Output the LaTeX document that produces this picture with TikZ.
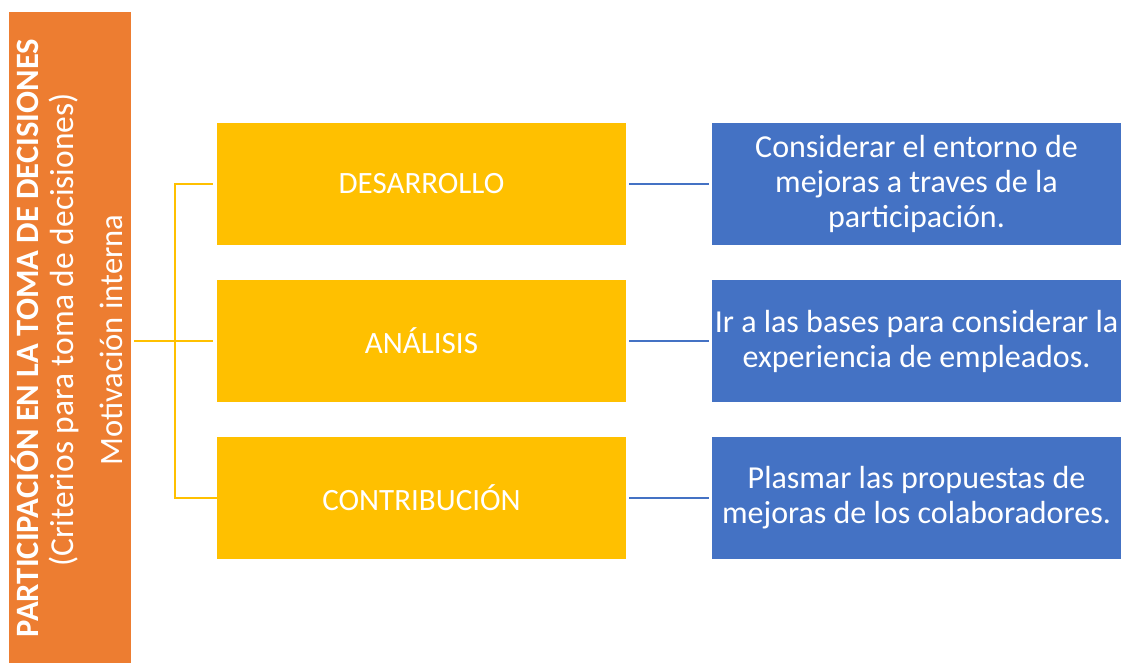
\documentclass[tikz,border=0pt]{standalone}
\usepackage{fontspec}
\setmainfont{Carlito}
\begin{document}
\begin{tikzpicture}[x=1pt,y=-1pt,
  ybox/.style={fill=yellowc,minimum width=409pt,minimum height=122pt,inner sep=0pt,text=white,font=\fontsize{31}{36}\selectfont},
  bbox/.style={fill=bluec,minimum width=409pt,minimum height=122pt,inner sep=0pt,text=white,align=center,font=\fontsize{32}{35}\selectfont},
  yline/.style={draw=yellowc,line width=2.5pt},
  bline/.style={draw=bluec,line width=2.5pt},
  vtext/.style={rotate=90,anchor=base,text=white,inner sep=0pt}]
\definecolor{yellowc}{HTML}{FFC000}
\definecolor{bluec}{HTML}{4472C4}
\definecolor{orangec}{HTML}{ED7D31}
\useasboundingbox (0,0) rectangle (1121,663);
\node[fill=orangec,minimum width=122pt,minimum height=651pt,inner sep=0pt,anchor=north west] (org) at (9,12) {};
\node[vtext,font=\bfseries\fontsize{32.6}{36}\selectfont] (t1) at (38,338) {PARTICIPACIÓN EN LA TOMA DE DECISIONES};
\node[vtext,font=\fontsize{33.5}{36}\selectfont] (t2) at (73,330) {(Criterios para toma de decisiones)};
\node[vtext,font=\fontsize{32.6}{36}\selectfont] (t3) at (122,340) {Motivación interna};
\node[ybox] (y1) at (421.5,184) {DESARROLLO};
\node[ybox] (y2) at (421.5,341) {ANÁLISIS};
\node[ybox] (y3) at (421.5,498) {CONTRIBUCIÓN};
\node[bbox] (b1) at (916.5,184) {Considerar el entorno de\\mejoras a traves de la\\participación.};
\node[bbox] (b2) at (916.5,341) {Ir a las bases para considerar la\\experiencia de empleados.};
\node[bbox] (b3) at (916.5,498) {Plasmar las propuestas de\\mejoras de los colaboradores.};
\coordinate (spine) at (175,341);
\draw[yline,shorten <=3pt,shorten >=4pt] (org.east |- y2.west) -- (y2.west);
\draw[yline,shorten <=4pt] (y1.west) -| (spine) |- (y3.west);
\draw[bline,shorten <=3pt,shorten >=3pt] (y1.east) -- (b1.west);
\draw[bline,shorten <=3pt,shorten >=3pt] (y2.east) -- (b2.west);
\draw[bline,shorten <=3pt,shorten >=3pt] (y3.east) -- (b3.west);
\end{tikzpicture}
\end{document}
